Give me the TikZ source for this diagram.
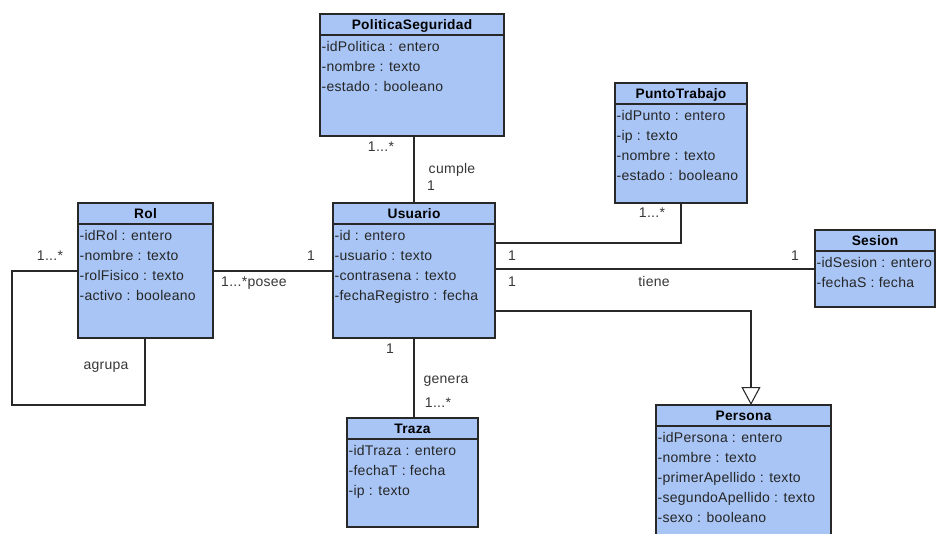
\documentclass[tikz,border=0pt]{standalone}
\usepackage{fontspec}
\setmainfont{Liberation Sans}[LetterSpace=2]
\usetikzlibrary{arrows.meta,calc}

\definecolor{classfill}{RGB}{168,197,245}
\definecolor{classline}{RGB}{40,40,40}
\definecolor{labeltext}{RGB}{55,55,55}

\tikzset{
  x=0.75pt, y=-0.75pt,
  classbox/.style={draw=classline, line width=1pt, fill=classfill,
    anchor=north west, inner sep=0pt, outer sep=0pt},
  classtitle/.style={font=\fontsize{10.3}{12}\selectfont\bfseries, text=black,
    anchor=base, inner sep=0pt},
  classattr/.style={font=\fontsize{10.5}{12}\selectfont, text=black!85,
    anchor=base west, inner sep=0pt},
  assoc/.style={draw=classline, line width=0.8pt},
  generalization/.style={assoc, -{Triangle[open, length=13.5pt, width=14.25pt]}},
  rolelabel/.style={font=\fontsize{10.5}{12}\selectfont, text=labeltext, inner sep=0pt},
}

% \umlclass{name}{left}{top}{width}{height}{title}{attributes}
\newcommand\umlclass[7]{%
  \node[classbox, minimum width={#4*0.75pt}, minimum height={#5*0.75pt}] (#1) at (#2,#3) {};
  \draw[classline, line width=1pt] ([yshift=-15.75pt]#1.north west) -- ([yshift=-15.75pt]#1.north east);
  \node[classtitle] (#1-title) at ([yshift=-11.5pt]#1.north) {#6};
  \foreach \t [count=\i] in {#7} {
    \node[classattr] (#1-a\i) at ([xshift=1pt, yshift={-(27.75+(\i-1)*15)*1pt}]#1.north west) {\t};
  }%
}

\begin{document}
\begin{tikzpicture}
\useasboundingbox (0,0) rectangle (938,533);
\clip (0,0) rectangle (938,533);
\fill[white] (0,0) rectangle (938,533);

% classes
\umlclass{pol}{320}{14}{184}{122}{PoliticaSeguridad}
  {-idPolitica : entero, -nombre : texto, -estado : booleano}
\umlclass{pt}{615}{83}{132}{120}{PuntoTrabajo}
  {-idPunto : entero, -ip : texto, -nombre : texto, -estado : booleano}
\umlclass{rol}{78}{203}{135}{135}{Rol}
  {-idRol : entero, -nombre : texto, -rolFisico : texto, -activo : booleano}
\umlclass{usu}{333}{203}{162}{135}{Usuario}
  {-id : entero, -usuario : texto, -contrasena : texto, -fechaRegistro : fecha}
\umlclass{ses}{815}{230}{120}{77}{Sesion}
  {-idSesion : entero, -fechaS : fecha}
\umlclass{tra}{347}{418}{131}{109}{Traza}
  {-idTraza : entero, -fechaT : fecha, -ip : texto}
\umlclass{per}{656}{405}{175}{140}{Persona}
  {-idPersona : entero, -nombre : texto, -primerApellido : texto,
   -segundoApellido : texto, -sexo : booleano}

% associations
\draw[assoc] (usu.north) -- (usu.north |- pol.south);
\draw[assoc] ($(usu.north east)+(0,40)$) -| (pt.south);
\draw[assoc] ($(usu.north east)+(0,66)$) -- ($(ses.north west)+(0,39)$);
\draw[assoc] ($(rol.north east)+(0,68)$) -- ($(usu.north west)+(0,68)$);
\coordinate (loopcorner) at (12,405);
\draw[assoc] ($(rol.north west)+(0,68)$) -| (loopcorner) -| ($(rol.south west)+(67,0)$);
\draw[assoc] (usu.south) -- (usu.south |- tra.north);
\draw[generalization] ($(usu.north east)+(0,108)$) -| ([xshift=5.6pt]per.north);

% multiplicities and association names
\node[rolelabel] (l-pol-m) at (381,147) {1...*};
\node[rolelabel] (l-cumple) at (452,170) {cumple};
\node[rolelabel] (l-pol-1) at (431,186) {1};
\node[rolelabel] (l-pt-m) at (652,213) {1...*};
\node[rolelabel] (l-pt-1) at (512,256) {1};
\node[rolelabel] (l-ses-1a) at (512,282) {1};
\node[rolelabel] (l-tiene) at (654,281) {tiene};
\node[rolelabel] (l-ses-1b) at (795,256) {1};
\node[rolelabel] (l-rol-m) at (50,256) {1...*};
\node[rolelabel] (l-rol-1) at (311,256) {1};
\node[rolelabel] (l-posee) at (254,283) {1...*posee};
\node[rolelabel] (l-agrupa) at (106,367) {agrupa};
\node[rolelabel] (l-tra-1) at (390,349) {1};
\node[rolelabel] (l-genera) at (446,381) {genera};
\node[rolelabel] (l-tra-m) at (438,403) {1...*};
\end{tikzpicture}
\end{document}
